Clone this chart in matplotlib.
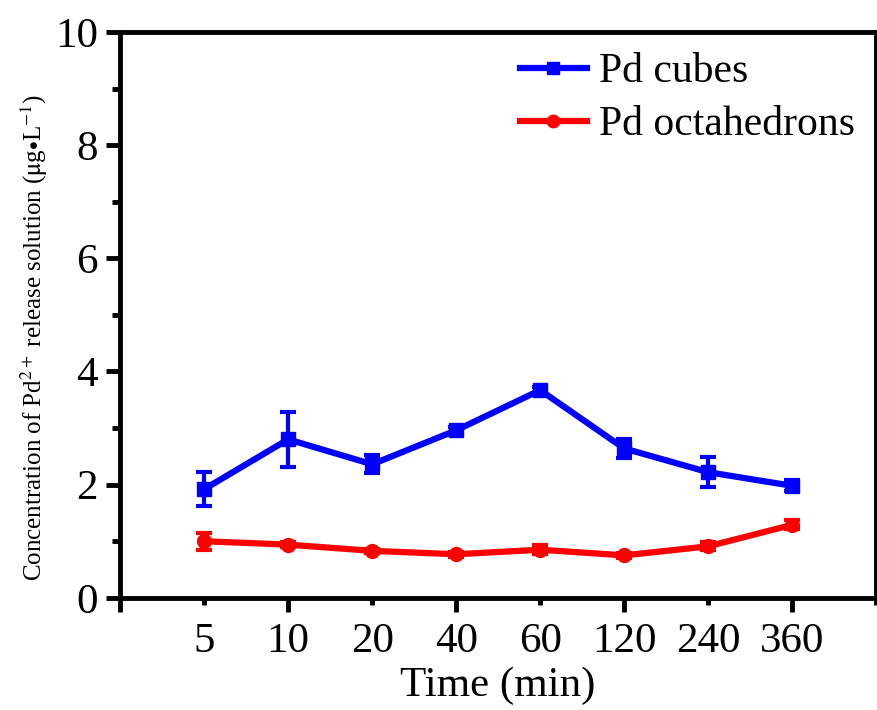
import matplotlib
matplotlib.use("Agg")
import matplotlib.pyplot as plt
from matplotlib.lines import Line2D
import numpy as np

plt.rcParams['font.family'] = ['Liberation Serif', 'DejaVu Serif']
plt.rcParams['mathtext.fontset'] = 'stix'

time_labels = ['5', '10', '20', '40', '60', '120', '240', '360']
cubes = [1.92, 2.80, 2.36, 2.96, 3.67, 2.64, 2.22, 1.98]
cubes_err = [0.30, 0.49, 0.16, 0.06, 0.06, 0.17, 0.26, 0.10]
octa = [1.00, 0.94, 0.83, 0.77, 0.85, 0.75, 0.91, 1.29]
octa_err = [0.15, 0.05, 0.04, 0.04, 0.08, 0.04, 0.07, 0.08]

fig = plt.figure(figsize=(8.77, 7.10), dpi=100)
ax = fig.add_axes([0.137, 0.158, 0.862, 0.797])

x = np.arange(1, len(time_labels) + 1)
ax.errorbar(x, cubes, yerr=cubes_err, color='#0000ff', lw=4.5, marker='s', ms=10,
            capsize=6, capthick=3, elinewidth=3)
ax.errorbar(x, octa, yerr=octa_err, color='#ff0000', lw=4.5, marker='o', ms=10,
            capsize=6, capthick=3, elinewidth=3)

ax.set_xlim(0, 9)
ax.set_ylim(0, 10)
ax.set_xticks(np.arange(0, 10))
ax.set_xticklabels([''] + time_labels + [''])
ax.set_yticks(np.arange(0, 11, 2))
ax.set_yticks(np.arange(1, 10, 2), minor=True)

for s in ax.spines.values():
    s.set_linewidth(3.5)
ax.tick_params(axis='both', which='major', direction='out', length=10, width=3.5, labelsize=31)
ax.tick_params(axis='y', which='minor', direction='out', length=6, width=3.5)
ax.tick_params(axis='x', which='major', pad=8)
ax.tick_params(axis='y', which='major', pad=6)
for t in ax.xaxis.get_major_ticks()[1::2]:
    t.tick1line.set_markersize(5)

ax.set_xlabel('Time (min)', fontsize=31, labelpad=4)
ax.set_ylabel(r'Concentration of Pd$^{2+}$ release solution ($\mathrm{\mu}$g$\bullet$L$^{-1}$)',
              fontsize=18)
ax.yaxis.set_label_coords(-0.093, 0.46)

handles = [Line2D([], [], color='#0000ff', lw=4.5, marker='s', ms=9),
           Line2D([], [], color='#ff0000', lw=4.5, marker='o', ms=9)]
ax.legend(handles, ['Pd cubes', 'Pd octahedrons'], loc='upper right', fontsize=30,
          frameon=False, handlelength=1.6, borderaxespad=0.3, labelspacing=0.35,
          handletextpad=0.3, borderpad=0.2)

fig.savefig('out.png', dpi=100)
